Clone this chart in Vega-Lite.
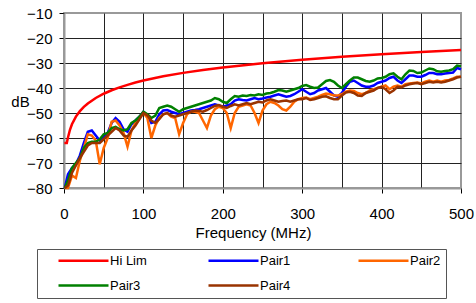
{
  "$schema": "https://vega.github.io/schema/vega-lite/v6.json",
  "width": 397,
  "height": 175,
  "autosize": "none",
  "padding": {"left": 64, "top": 13, "right": 15, "bottom": 115},
  "background": "white",
  "config": {
    "view": {"stroke": "#999999", "strokeWidth": 2},
    "font": "Liberation Sans"
  },
  "datasets": {
    "hilim": [
      {"f": 0.5, "Hi Lim": -62}, {"f": 3.5, "Hi Lim": -62}, {"f": 5, "Hi Lim": -59.8}, {"f": 7.5, "Hi Lim": -56.7},
      {"f": 10, "Hi Lim": -54.5}, {"f": 15, "Hi Lim": -51.45}, {"f": 20, "Hi Lim": -49.26}, {"f": 25, "Hi Lim": -47.57},
      {"f": 30, "Hi Lim": -46.18}, {"f": 40, "Hi Lim": -43.99}, {"f": 50, "Hi Lim": -42.3}, {"f": 60, "Hi Lim": -40.91},
      {"f": 70, "Hi Lim": -39.74}, {"f": 80, "Hi Lim": -38.73}, {"f": 90, "Hi Lim": -37.83}, {"f": 100, "Hi Lim": -37.03},
      {"f": 125, "Hi Lim": -35.33}, {"f": 150, "Hi Lim": -33.95}, {"f": 175, "Hi Lim": -32.78}, {"f": 200, "Hi Lim": -31.77},
      {"f": 250, "Hi Lim": -30.07}, {"f": 300, "Hi Lim": -28.69}, {"f": 350, "Hi Lim": -27.52}, {"f": 400, "Hi Lim": -26.5},
      {"f": 450, "Hi Lim": -25.6}, {"f": 500, "Hi Lim": -24.8}
    ],
    "pairs": [
      {"f": 1, "Pair1": -80, "Pair2": -80, "Pair3": -80, "Pair4": -80},
      {"f": 5, "Pair1": -74.5, "Pair2": -80, "Pair3": -77, "Pair4": -79},
      {"f": 10, "Pair1": -72, "Pair2": -75, "Pair3": -72, "Pair4": -74},
      {"f": 15, "Pair1": -70.5, "Pair2": -76, "Pair3": -70, "Pair4": -71},
      {"f": 20, "Pair1": -67, "Pair2": -69, "Pair3": -68, "Pair4": -68},
      {"f": 25, "Pair1": -62, "Pair2": -64, "Pair3": -64, "Pair4": -65.5},
      {"f": 30, "Pair1": -57.5, "Pair2": -58.5, "Pair3": -62, "Pair4": -63},
      {"f": 35, "Pair1": -57, "Pair2": -59, "Pair3": -61.5, "Pair4": -62},
      {"f": 40, "Pair1": -59, "Pair2": -61, "Pair3": -61.5, "Pair4": -62},
      {"f": 45, "Pair1": -61, "Pair2": -70.5, "Pair3": -60.5, "Pair4": -62},
      {"f": 50, "Pair1": -59.5, "Pair2": -64, "Pair3": -58.5, "Pair4": -60.5},
      {"f": 55, "Pair1": -58, "Pair2": -60, "Pair3": -58, "Pair4": -59},
      {"f": 60, "Pair1": -54, "Pair2": -53.5, "Pair3": -56, "Pair4": -57.5},
      {"f": 65, "Pair1": -52, "Pair2": -53, "Pair3": -55.5, "Pair4": -56},
      {"f": 70, "Pair1": -53.5, "Pair2": -55, "Pair3": -56.5, "Pair4": -57},
      {"f": 75, "Pair1": -56.5, "Pair2": -58, "Pair3": -57, "Pair4": -59},
      {"f": 80, "Pair1": -57.5, "Pair2": -63.5, "Pair3": -56.5, "Pair4": -59.5},
      {"f": 85, "Pair1": -54.5, "Pair2": -57, "Pair3": -54, "Pair4": -57},
      {"f": 90, "Pair1": -53, "Pair2": -54, "Pair3": -53, "Pair4": -55},
      {"f": 95, "Pair1": -51.5, "Pair2": -51.5, "Pair3": -51.5, "Pair4": -52.5},
      {"f": 100, "Pair1": -49.5, "Pair2": -50, "Pair3": -49.5, "Pair4": -50},
      {"f": 105, "Pair1": -51, "Pair2": -52, "Pair3": -50.5, "Pair4": -51},
      {"f": 110, "Pair1": -54, "Pair2": -60, "Pair3": -52, "Pair4": -53},
      {"f": 115, "Pair1": -53.5, "Pair2": -55, "Pair3": -51, "Pair4": -54},
      {"f": 120, "Pair1": -50.5, "Pair2": -52, "Pair3": -48, "Pair4": -52.5},
      {"f": 125, "Pair1": -49, "Pair2": -50.5, "Pair3": -47.5, "Pair4": -50.5},
      {"f": 130, "Pair1": -48.8, "Pair2": -50, "Pair3": -47, "Pair4": -50},
      {"f": 135, "Pair1": -49.5, "Pair2": -51.5, "Pair3": -47.5, "Pair4": -51},
      {"f": 140, "Pair1": -50, "Pair2": -52, "Pair3": -48.5, "Pair4": -51.5},
      {"f": 145, "Pair1": -50.5, "Pair2": -58.5, "Pair3": -49.5, "Pair4": -51},
      {"f": 150, "Pair1": -50, "Pair2": -54, "Pair3": -48.5, "Pair4": -50.5},
      {"f": 155, "Pair1": -49.5, "Pair2": -50.5, "Pair3": -48, "Pair4": -50},
      {"f": 160, "Pair1": -49, "Pair2": -49.5, "Pair3": -47.5, "Pair4": -49.5},
      {"f": 165, "Pair1": -48.8, "Pair2": -49.5, "Pair3": -47, "Pair4": -49},
      {"f": 170, "Pair1": -48.5, "Pair2": -50, "Pair3": -46.5, "Pair4": -49.2},
      {"f": 175, "Pair1": -48, "Pair2": -53, "Pair3": -46, "Pair4": -49.5},
      {"f": 180, "Pair1": -47.5, "Pair2": -56, "Pair3": -45.5, "Pair4": -48.8},
      {"f": 185, "Pair1": -47, "Pair2": -51, "Pair3": -45, "Pair4": -48},
      {"f": 190, "Pair1": -46.5, "Pair2": -48.5, "Pair3": -44, "Pair4": -47.2},
      {"f": 195, "Pair1": -47, "Pair2": -47.5, "Pair3": -44.5, "Pair4": -46.8},
      {"f": 200, "Pair1": -47.5, "Pair2": -48, "Pair3": -45.5, "Pair4": -47.5},
      {"f": 205, "Pair1": -47, "Pair2": -50, "Pair3": -46, "Pair4": -48},
      {"f": 210, "Pair1": -46.5, "Pair2": -56, "Pair3": -44.5, "Pair4": -47.2},
      {"f": 215, "Pair1": -45, "Pair2": -50, "Pair3": -43.2, "Pair4": -46.5},
      {"f": 220, "Pair1": -44.5, "Pair2": -47.5, "Pair3": -43.5, "Pair4": -47},
      {"f": 225, "Pair1": -44.8, "Pair2": -47, "Pair3": -43, "Pair4": -46.5},
      {"f": 230, "Pair1": -45, "Pair2": -46.5, "Pair3": -43.2, "Pair4": -46},
      {"f": 235, "Pair1": -44.5, "Pair2": -47, "Pair3": -42.8, "Pair4": -46.5},
      {"f": 240, "Pair1": -44, "Pair2": -50, "Pair3": -43, "Pair4": -46},
      {"f": 245, "Pair1": -44.5, "Pair2": -54, "Pair3": -42.5, "Pair4": -45.5},
      {"f": 250, "Pair1": -44.2, "Pair2": -49, "Pair3": -42.8, "Pair4": -45.8},
      {"f": 255, "Pair1": -43.8, "Pair2": -46.5, "Pair3": -42.2, "Pair4": -45},
      {"f": 260, "Pair1": -43.5, "Pair2": -45.5, "Pair3": -42, "Pair4": -44.5},
      {"f": 265, "Pair1": -43, "Pair2": -46, "Pair3": -41.5, "Pair4": -45},
      {"f": 270, "Pair1": -42.5, "Pair2": -47, "Pair3": -40.8, "Pair4": -45.5},
      {"f": 275, "Pair1": -43, "Pair2": -48.5, "Pair3": -41, "Pair4": -45.2},
      {"f": 280, "Pair1": -43.5, "Pair2": -49, "Pair3": -41.5, "Pair4": -45},
      {"f": 285, "Pair1": -43.2, "Pair2": -47.5, "Pair3": -41, "Pair4": -45.5},
      {"f": 290, "Pair1": -42.5, "Pair2": -45.5, "Pair3": -40.5, "Pair4": -45},
      {"f": 295, "Pair1": -41.5, "Pair2": -44.5, "Pair3": -40, "Pair4": -44.5},
      {"f": 300, "Pair1": -40.5, "Pair2": -44, "Pair3": -39.2, "Pair4": -44.5},
      {"f": 305, "Pair1": -41.5, "Pair2": -43.8, "Pair3": -38.8, "Pair4": -44},
      {"f": 310, "Pair1": -42.5, "Pair2": -44.5, "Pair3": -39.5, "Pair4": -44.8},
      {"f": 315, "Pair1": -42, "Pair2": -44, "Pair3": -40, "Pair4": -44.5},
      {"f": 320, "Pair1": -41, "Pair2": -43.5, "Pair3": -39.8, "Pair4": -44},
      {"f": 325, "Pair1": -40.5, "Pair2": -42.8, "Pair3": -38.5, "Pair4": -43.5},
      {"f": 330, "Pair1": -40, "Pair2": -42.2, "Pair3": -37.2, "Pair4": -43.3},
      {"f": 335, "Pair1": -41.5, "Pair2": -42.5, "Pair3": -36.8, "Pair4": -44},
      {"f": 340, "Pair1": -43, "Pair2": -43, "Pair3": -37.5, "Pair4": -44.5},
      {"f": 345, "Pair1": -43.5, "Pair2": -43, "Pair3": -39, "Pair4": -44.5},
      {"f": 350, "Pair1": -42, "Pair2": -42.5, "Pair3": -40, "Pair4": -43},
      {"f": 355, "Pair1": -39.5, "Pair2": -41.5, "Pair3": -38.5, "Pair4": -41.8},
      {"f": 360, "Pair1": -37.5, "Pair2": -41, "Pair3": -37, "Pair4": -41.5},
      {"f": 365, "Pair1": -37, "Pair2": -41.2, "Pair3": -35.8, "Pair4": -42},
      {"f": 370, "Pair1": -38, "Pair2": -42, "Pair3": -35.8, "Pair4": -43},
      {"f": 375, "Pair1": -39, "Pair2": -42.5, "Pair3": -36.5, "Pair4": -43.2},
      {"f": 380, "Pair1": -39.5, "Pair2": -42, "Pair3": -37.2, "Pair4": -42},
      {"f": 385, "Pair1": -39.5, "Pair2": -41, "Pair3": -37.5, "Pair4": -41.5},
      {"f": 390, "Pair1": -39, "Pair2": -40.5, "Pair3": -37, "Pair4": -41},
      {"f": 395, "Pair1": -38, "Pair2": -40, "Pair3": -36.2, "Pair4": -40},
      {"f": 400, "Pair1": -37.5, "Pair2": -39.5, "Pair3": -36, "Pair4": -39.5},
      {"f": 405, "Pair1": -37, "Pair2": -39, "Pair3": -35.5, "Pair4": -40.5},
      {"f": 410, "Pair1": -36, "Pair2": -40.5, "Pair3": -34.5, "Pair4": -42},
      {"f": 415, "Pair1": -35.5, "Pair2": -39.5, "Pair3": -34.1, "Pair4": -41},
      {"f": 420, "Pair1": -37, "Pair2": -39, "Pair3": -35.5, "Pair4": -39.5},
      {"f": 425, "Pair1": -38, "Pair2": -39.5, "Pair3": -36.5, "Pair4": -39.8},
      {"f": 430, "Pair1": -36.5, "Pair2": -38.5, "Pair3": -34.5, "Pair4": -39},
      {"f": 435, "Pair1": -35, "Pair2": -38.2, "Pair3": -33, "Pair4": -38.5},
      {"f": 440, "Pair1": -35, "Pair2": -38, "Pair3": -33.2, "Pair4": -38.2},
      {"f": 445, "Pair1": -35.5, "Pair2": -37.8, "Pair3": -34, "Pair4": -38},
      {"f": 450, "Pair1": -35.5, "Pair2": -38.2, "Pair3": -33.8, "Pair4": -38.5},
      {"f": 455, "Pair1": -34.8, "Pair2": -37.5, "Pair3": -33, "Pair4": -38},
      {"f": 460, "Pair1": -34, "Pair2": -37, "Pair3": -32.2, "Pair4": -37.5},
      {"f": 465, "Pair1": -34, "Pair2": -37.5, "Pair3": -32.5, "Pair4": -37.8},
      {"f": 470, "Pair1": -34.5, "Pair2": -37, "Pair3": -33.3, "Pair4": -37.5},
      {"f": 475, "Pair1": -34.5, "Pair2": -37.5, "Pair3": -33.5, "Pair4": -37.8},
      {"f": 480, "Pair1": -34.2, "Pair2": -37, "Pair3": -33.2, "Pair4": -37.5},
      {"f": 485, "Pair1": -34, "Pair2": -36.8, "Pair3": -33, "Pair4": -37},
      {"f": 490, "Pair1": -33.8, "Pair2": -36.2, "Pair3": -32.5, "Pair4": -36.5},
      {"f": 495, "Pair1": -32, "Pair2": -35.5, "Pair3": -31, "Pair4": -35.8},
      {"f": 500, "Pair1": -32.5, "Pair2": -35.5, "Pair3": -31.3, "Pair4": -35.5}
    ]
  },
  "encoding": {
    "x": {
      "field": "f",
      "type": "quantitative",
      "scale": {"domain": [0, 500], "nice": false, "zero": false},
      "axis": {
        "values": [0, 50, 100, 150, 200, 250, 300, 350, 400, 450, 500],
        "labelExpr": "datum.value % 100 === 0 ? datum.label : ''",
        "title": "Frequency (MHz)",
        "titleFontSize": 15,
        "titleFontWeight": "normal",
        "titleColor": "black",
        "titleX": 189,
        "titleY": 49,
        "titleBaseline": "alphabetic",
        "titleAnchor": "middle",
        "titleAlign": "center",
        "labelFontSize": 15,
        "labelColor": "black",
        "labelPadding": 13,
        "labelFlush": false,
        "tickSize": 5,
        "tickColor": "black",
        "tickOpacity": {"condition": {"test": "datum.value % 100 !== 0", "value": 0}, "value": 1},
        "domainColor": "#999999",
        "domainWidth": 2,
        "grid": true,
        "gridColor": "#222222",
        "gridWidth": 1,
        "gridOpacity": {"condition": {"test": "datum.value === 0 || datum.value === 500", "value": 0}, "value": 1}
      }
    },
    "y": {
      "field": "v",
      "type": "quantitative",
      "scale": {"domain": [-80, -10], "nice": false, "zero": false},
      "axis": {
        "values": [-80, -70, -60, -50, -40, -30, -20, -10],
        "title": "dB",
        "titleAngle": 0,
        "titleAlign": "center",
        "titleBaseline": "alphabetic",
        "titleX": -44,
        "titleY": 93,
        "titleFontSize": 15,
        "titleFontWeight": "normal",
        "titleColor": "black",
        "labelFontSize": 15,
        "labelColor": "black",
        "labelPadding": 7,
        "labelFlush": false,
        "tickSize": 5,
        "tickColor": "black",
        "domainColor": "#999999",
        "domainWidth": 2,
        "grid": true,
        "gridColor": "#222222",
        "gridWidth": 1,
        "gridOpacity": {"condition": {"test": "datum.value === -10", "value": 0}, "value": 1}
      }
    },
    "color": {
      "field": "s",
      "type": "nominal",
      "scale": {
        "domain": ["Hi Lim", "Pair1", "Pair2", "Pair3", "Pair4"],
        "range": ["#FF0000", "#0000FF", "#FF6600", "#008000", "#993300"]
      },
      "legend": {
        "title": null,
        "orient": "none",
        "legendX": -27,
        "legendY": 236,
        "direction": "horizontal",
        "columns": 3,
        "gridAlign": "all",
        "symbolType": "stroke",
        "symbolSize": 2500,
        "symbolStrokeWidth": 2.5,
        "symbolOffset": 15,
        "labelOffset": 0,
        "clipHeight": 13,
        "labelFontSize": 13,
        "labelColor": "black",
        "labelLimit": 200,
        "padding": 5,
        "columnPadding": 45,
        "rowPadding": 11,
        "strokeColor": "#555555",
        "fillColor": "white"
      }
    }
  },
  "layer": [
    {
      "data": {"name": "hilim"},
      "transform": [{"fold": ["Hi Lim"], "as": ["s", "v"]}],
      "mark": {"type": "line", "strokeWidth": 2.5}
    },
    {
      "data": {"name": "pairs"},
      "transform": [{"fold": ["Pair1", "Pair2", "Pair3", "Pair4"], "as": ["s", "v"]}],
      "mark": {"type": "line", "strokeWidth": 2.5}
    }
  ]
}
